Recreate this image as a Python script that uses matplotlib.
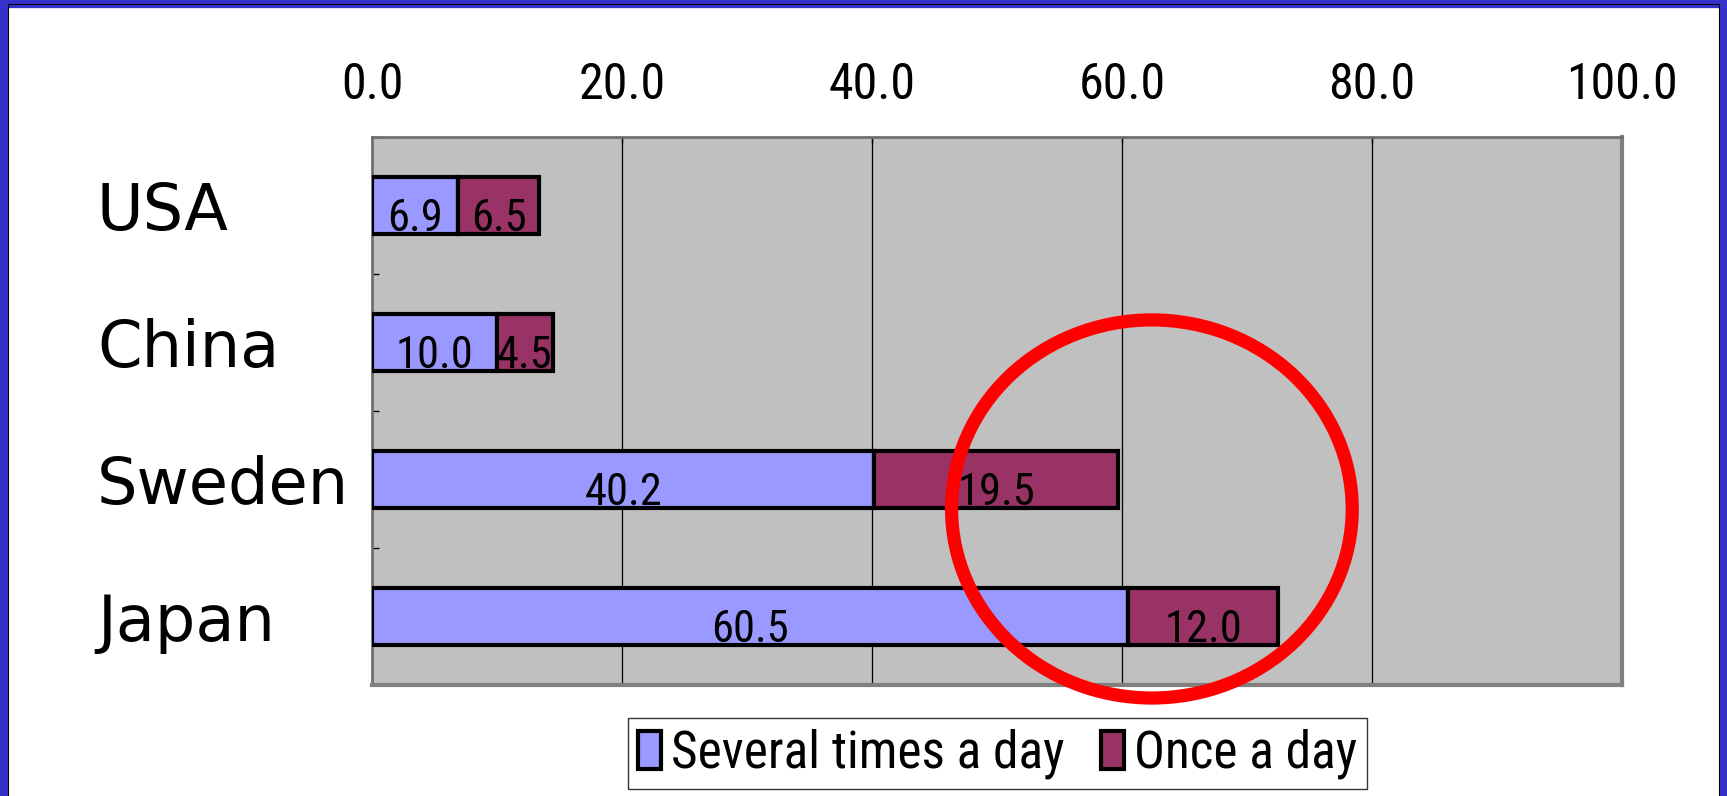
import matplotlib.pyplot as plt
from matplotlib import font_manager
from matplotlib.patches import Ellipse, Rectangle
import numpy as np

countries = ["USA", "China", "Sweden", "Japan"]
several_times = [6.9, 10.0, 40.2, 60.5]
once_a_day = [6.5, 4.5, 19.5, 12.0]
ticks = [0, 20, 40, 60, 80, 100]

# pick the narrowest face that is installed for the numbers and legend
installed = {f.name for f in font_manager.fontManager.ttflist}
candidates = ["Liberation Sans Narrow", "Roboto Condensed", "DejaVu Sans Condensed",
              "Open Sans Condensed", "Roboto"]
narrow = [n for n in candidates if n in installed] + ["DejaVu Sans"]
is_condensed = narrow[0] not in ("Roboto", "DejaVu Sans")

blue = "#9999FF"
maroon = "#993366"

fig = plt.figure(figsize=(17.27, 7.96), dpi=100)
ax = fig.add_axes([0.2154, 0.1394, 0.7238, 0.6885])
ax.set_facecolor("#C0C0C0")

y = np.arange(len(countries))
h = 0.42
ax.barh(y, several_times, height=h, color=blue, edgecolor="black", linewidth=3,
        label="Several times a day", zorder=3)
ax.barh(y, once_a_day, left=several_times, height=h, color=maroon, edgecolor="black",
        linewidth=3, label="Once a day", zorder=3)

lab_size = 32 if is_condensed else 27
for i in range(len(countries)):
    ax.text(several_times[i] / 2, y[i] + h / 2 - 0.025, f"{several_times[i]:.1f}",
            ha="center", va="baseline", fontsize=lab_size, family=narrow, zorder=4)
    ax.text(several_times[i] + once_a_day[i] / 2, y[i] + h / 2 - 0.025,
            f"{once_a_day[i]:.1f}", ha="center", va="baseline", fontsize=lab_size,
            family=narrow, zorder=4)

ax.set_xlim(0, 100)
ax.set_ylim(3.5, -0.5)
ax.set_xticks(ticks)
ax.set_xticklabels([f"{t:.1f}" for t in ticks], fontsize=36 if is_condensed else 29,
                   family=narrow)
ax.xaxis.tick_top()
ax.tick_params(axis="x", direction="in", length=4, pad=20, width=1)
ax.grid(axis="x", color="black", linewidth=0.9, zorder=1)

ax.set_yticks(y)
ax.set_yticklabels(countries, fontsize=46)
ax.set_yticks([-0.5, 0.5, 1.5, 2.5, 3.5], minor=True)
ax.tick_params(axis="y", which="major", length=0, pad=198)
ax.tick_params(axis="y", which="minor", direction="in", length=5, width=1)
for lab in ax.get_yticklabels():
    lab.set_ha("left")

for side in ["left", "top"]:
    ax.spines[side].set_color("#707070")
    ax.spines[side].set_linewidth(2)
for side in ["right", "bottom"]:
    ax.spines[side].set_color("#808080")
    ax.spines[side].set_linewidth(3)

leg = ax.legend(loc="center", bbox_to_anchor=(0.5776, 0.0528), bbox_transform=fig.transFigure,
                ncol=2, frameon=True, fancybox=False, edgecolor="black",
                prop={"family": narrow, "size": 37 if is_condensed else 32},
                handlelength=0.45, handleheight=0.75, handletextpad=0.2,
                columnspacing=0.7, borderpad=0.2, borderaxespad=0)
leg.get_frame().set_linewidth(1)
for p in leg.get_patches():
    p.set_linewidth(3)

# red highlight circle
fig.patches.append(Ellipse((0.667, 0.3606), 0.232, 0.475, transform=fig.transFigure,
                           fill=False, edgecolor="#FF0000", linewidth=9.5, zorder=10))

# slide frame: blue border on top, left and right
fig.patches.append(Rectangle((0, -0.05), 1, 1.05, transform=fig.transFigure, fill=False,
                             edgecolor="#3333CC", linewidth=11, zorder=11))
fig.patches.append(Rectangle((0.0045, -0.05), 0.991, 1.0455, transform=fig.transFigure,
                             fill=False, edgecolor="black", linewidth=0.8, zorder=11))

fig.savefig("out.png", dpi=100)
